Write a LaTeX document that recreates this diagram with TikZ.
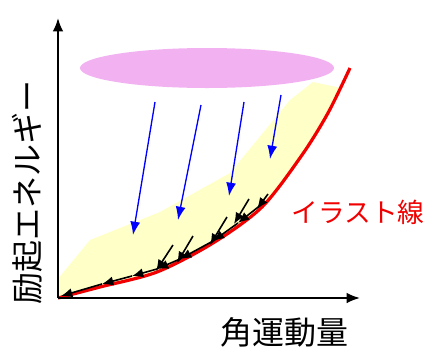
\documentclass[tikz,border=0pt]{standalone}
\usepackage{fontspec}
\setmainfont{Noto Sans CJK JP}
\usetikzlibrary{arrows.meta}
\definecolor{pinkell}{RGB}{242,178,242}
\definecolor{lightyel}{RGB}{255,255,200}
\definecolor{irastred}{RGB}{240,0,0}
\begin{document}
\begin{tikzpicture}[x=0.75pt,y=-0.75pt,
  axis/.style={black,line width=1.5pt,-{Latex[length=10pt,width=8pt]}},
  bluearr/.style={blue,line width=1pt,-{Latex[length=10pt,width=7.5pt]}},
  blackarr/.style={black,line width=1.2pt,-{Latex[length=8.5pt,width=7pt]}},
  lab/.style={font=\fontsize{24}{24}\selectfont}]
\useasboundingbox (0,0) rectangle (428,347);
% yellow band
\fill[lightyel] plot[smooth] coordinates {(58,298) (100,287) (157,272) (213,243) (262,207) (302,155) (341,88)}
  -- (313,82) -- (290,100) -- (230,173) -- (160,212) -- (90,240) -- (57,280) -- cycle;
% pink ellipse
\fill[pinkell] (207,68) ellipse [x radius=95.25pt, y radius=15pt];
% yrast line
\draw[irastred, line width=2.4pt] plot[smooth] coordinates {(58,298) (100,287) (157,272) (213,243) (262,207) (302,155) (328,113) (350,68)};
% axes
\coordinate (O) at (58,298);
\coordinate (Ytop) at (58,18);
\coordinate (Xend) at (360,298);
\draw[axis] (O) -- (Ytop);
\draw[axis] (O) -- (Xend);
% blue arrows
\draw[bluearr] (155,102) -- (133,235);
\draw[bluearr] (201,105) -- (178,220);
\draw[bluearr] (244,102) -- (229,196);
\draw[bluearr] (281,95) -- (270,159);
% black diagonal arrows
\draw[blackarr] (173,245) -- (156,271);
\draw[blackarr] (193,236) -- (177,263);
\draw[blackarr] (227,217) -- (210,245);
\draw[blackarr] (249,199) -- (234,224);
\draw[blackarr] (268,194) -- (257,209);
% black arrows along the curve
\draw[blackarr] (262,204) -- (238,223);
\draw[blackarr] (238,223) -- (213,241);
\draw[blackarr] (213,241) -- (180,259);
\draw[blackarr] (180,259) -- (157,269);
\draw[blackarr] (157,269) -- (132,276);
\draw[blackarr] (132,276) -- (102,284);
\draw[blackarr] (102,284) -- (61,296);
% labels
\node[text=irastred, font=\fontsize{20}{20}\selectfont] (ir) at (358,212) {イラスト線};
\node[lab, rotate=90] (ylab) at (27,192) {励起エネルギー};
\node[lab] (xlab) at (284,332) {角運動量};
\end{tikzpicture}
\end{document}
